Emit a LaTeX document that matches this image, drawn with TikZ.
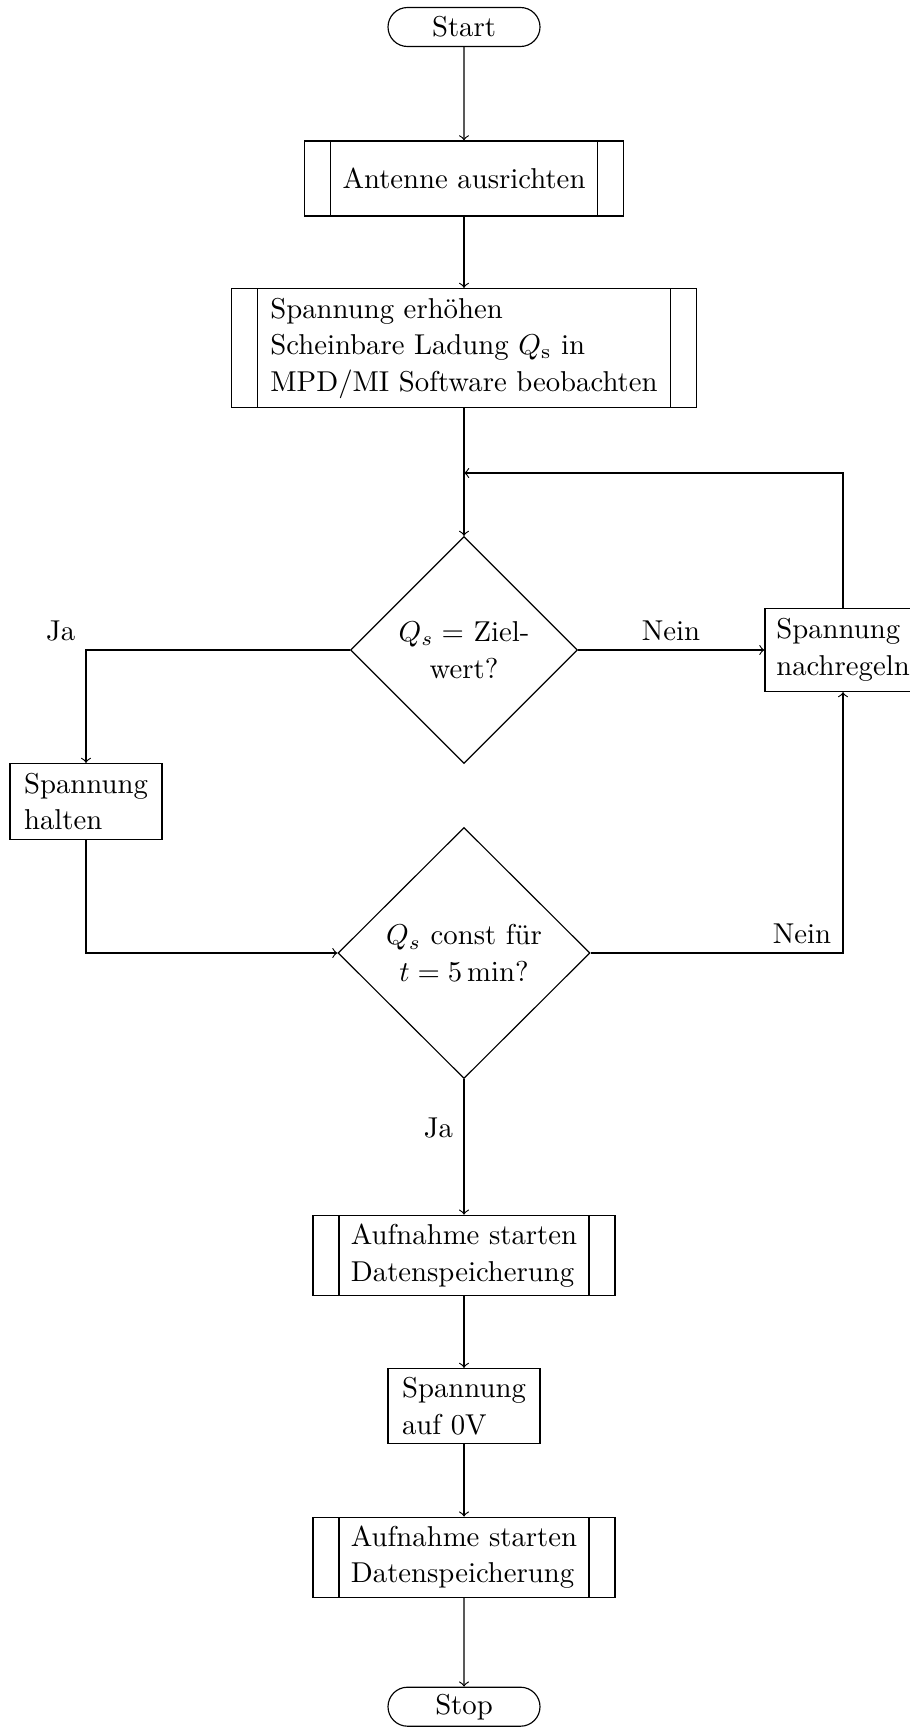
\documentclass[tikz,border=0pt]{standalone}
\usetikzlibrary{shapes.geometric,shapes.misc,calc}
\newcommand\pxu[1]{#1*0.348pt}
\begin{document}
\begin{tikzpicture}[x=0.348pt,y=-0.348pt,
  every node/.style={font=\fontsize{10}{12.7}\selectfont, inner sep=0pt},
  box/.style={draw, rectangle, align=left},
  term/.style={draw, rounded rectangle, minimum width=\pxu{152}, minimum height=\pxu{39}},
  decide/.style={draw, diamond, aspect=1, align=center},
  subproc/.style={box, path picture={
     \draw ([xshift=\pxu{26}]path picture bounding box.north west) -- ([xshift=\pxu{26}]path picture bounding box.south west);
     \draw ([xshift=-\pxu{26}]path picture bounding box.north east) -- ([xshift=-\pxu{26}]path picture bounding box.south east);}},
  lbl/.style={},
  conn/.style={->}
]
\useasboundingbox (0,0) rectangle (909,1728);
\node[term] (start) at (464,27) {Start};
\node[subproc, minimum width=\pxu{319}, minimum height=\pxu{75}] (ant) at (464,178.5) {Antenne ausrichten};
\node[subproc, minimum width=\pxu{465}, minimum height=\pxu{119}] (erh) at (464,348) {Spannung erh\"ohen\\Scheinbare Ladung $Q_\mathrm{s}$ in\\MPD/MI Software beobachten};
\coordinate (j) at (464,473);
\node[decide, minimum width=\pxu{227}, minimum height=\pxu{227}] (d1) at (464,650) {$Q_s =$ Ziel-\\wert?};
\node[box, minimum width=\pxu{156}, minimum height=\pxu{83}] (nach) at (843,650) {Spannung\\nachregeln};
\node[box, minimum width=\pxu{152}, minimum height=\pxu{76}] (halt) at (86,801.5) {Spannung\\halten};
\node[decide, minimum width=\pxu{252}, minimum height=\pxu{251}] (d2) at (464,953) {$Q_s$ const f\"ur\\$t = 5\,\mathrm{min}$?};
\node[subproc, minimum width=\pxu{302}, minimum height=\pxu{80.4}] (auf1) at (464,1255.5) {Aufnahme starten\\Datenspeicherung};
\node[box, minimum width=\pxu{152}, minimum height=\pxu{75}] (null) at (464,1406) {Spannung\\auf 0V};
\node[subproc, minimum width=\pxu{302}, minimum height=\pxu{80.4}] (auf2) at (464,1557.4) {Aufnahme starten\\Datenspeicherung};
\node[term] (stop) at (464,1706.7) {Stop};

\node[lbl] (ja1) at (60.6,631.3) {Ja};
\node[lbl] (nein1) at (671,631.3) {Nein};
\node[lbl] (nein2) at (802,934) {Nein};
\node[lbl] (ja2) at (438.5,1128) {Ja};

\draw[conn] (start) -- (ant);
\draw[conn] (ant) -- (erh);
\draw[conn] (erh) -- (d1);
\draw[conn] (nach.north) |- (j);
\draw[conn] (d1.west) -| (halt.north);
\draw[conn] (d1.east) -- (nach.west);
\draw[conn] (halt.south) |- (d2.west);
\draw[conn] (d2.east) -| (nach.south);
\draw[conn] (d2.south) -- (auf1.north);
\draw[conn] (auf1) -- (null);
\draw[conn] (null) -- (auf2);
\draw[conn] (auf2) -- (stop);
\end{tikzpicture}
\end{document}
